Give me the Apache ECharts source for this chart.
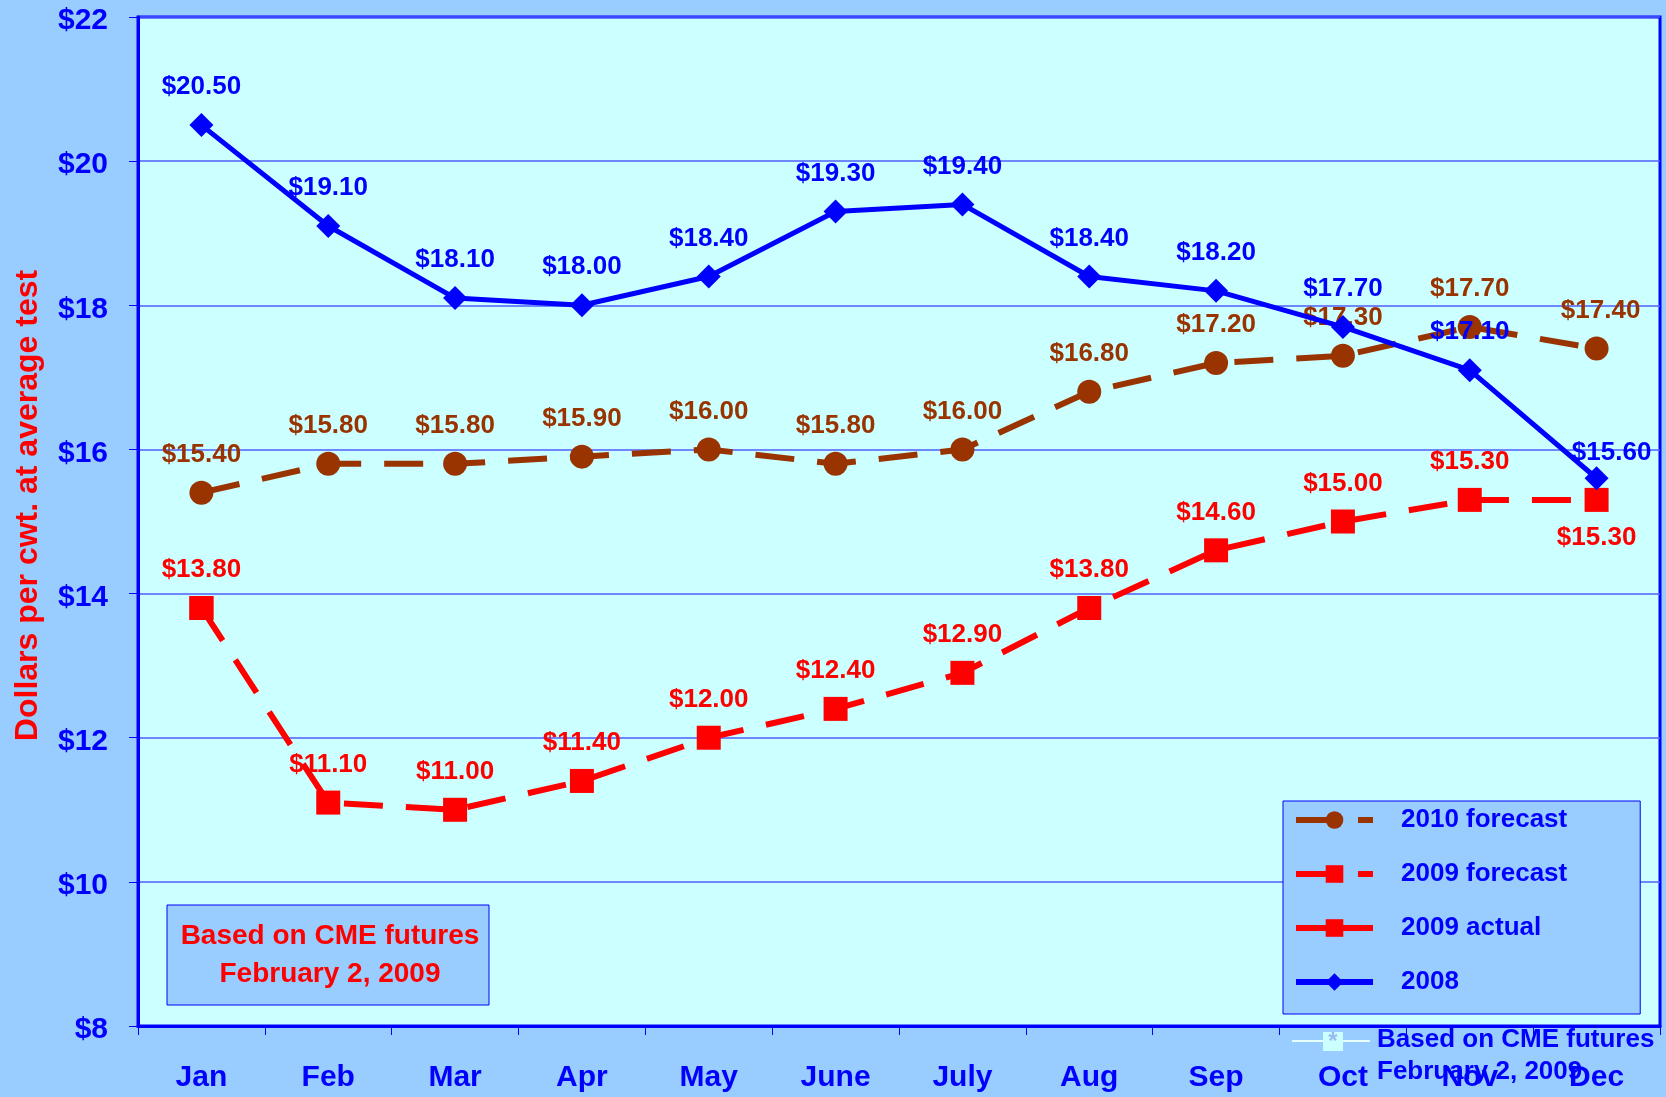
<!doctype html>
<html lang="en">
<head>
    <meta charset="UTF-8">
    <title>Class III milk price</title>
    <style>
        html, body { margin: 0; padding: 0; background: #99CCFF; }
        #chart { width: 1666px; height: 1097px; }
    </style>
</head>
<body>
    <div id="chart"></div>

    <script src="https://cdn.jsdelivr.net/npm/echarts@6/dist/echarts.min.js"></script>
    <script>
        var months = ['Jan', 'Feb', 'Mar', 'Apr', 'May', 'June', 'July', 'Aug', 'Sep', 'Oct', 'Nov', 'Dec'];
        var forecast2010 = [15.4, 15.8, 15.8, 15.9, 16.0, 15.8, 16.0, 16.8, 17.2, 17.3, 17.7, 17.4];
        var forecast2009 = [13.8, 11.1, 11.0, 11.4, 12.0, 12.4, 12.9, 13.8, 14.6, 15.0, 15.3, 15.3];
        var actual2009 = [13.8, '-', '-', '-', '-', '-', '-', '-', '-', '-', '-', '-'];
        var price2008 = [20.5, 19.1, 18.1, 18.0, 18.4, 19.3, 19.4, 18.4, 18.2, 17.7, 17.1, 15.6];

        var font = '"Liberation Sans", Arial, sans-serif';
        var chart = echarts.init(document.getElementById('chart'));

        function money(p) {
            return '$' + Number(p.value).toFixed(2);
        }
        function lbl(color, pos) {
            return {
                show: true,
                position: pos || 'top',
                distance: 13,
                color: color,
                fontFamily: font,
                fontWeight: 'bold',
                fontSize: 26,
                formatter: money
            };
        }

        // last red label sits below, last blue one is nudged right
        var red2009 = forecast2009.map(function (v, i) {
            if (i === 11) return { value: v, label: { position: 'bottom' } };
            return v;
        });
        var blue2008 = price2008.map(function (v, i) {
            if (i === 11) return { value: v, label: { offset: [15, 13] } };
            return v;
        });
        var brown2010 = forecast2010.map(function (v, i) {
            if (i === 11) return { value: v, label: { offset: [4, 0] } };
            return v;
        });

        var option = {
            backgroundColor: '#99CCFF',
            animation: false,
            textStyle: { fontFamily: font },
            grid: {
                left: 138, right: 6, top: 17, bottom: 71,
                show: true,
                backgroundColor: '#CCFFFF',
                borderColor: '#0000FF',
                borderWidth: 3
            },
            legend: {
                orient: 'vertical',
                left: 1283,
                top: 801,
                data: ['2010 forecast', '2009 forecast', '2009 actual', '2008'],
                backgroundColor: '#99CCFF',
                borderColor: '#0000FF',
                borderWidth: 1,
                borderRadius: 0,
                padding: [4, 73, 17, 10],
                itemGap: 24,
                itemWidth: 77,
                itemHeight: 22,
                selectedMode: false,
                lineStyle: { width: 6 },
                textStyle: {
                    color: '#0000FF',
                    fontFamily: font,
                    fontWeight: 'bold',
                    fontSize: 26,
                    lineHeight: 30,
                    padding: [0, 0, 0, 23]
                }
            },
            xAxis: {
                type: 'category',
                data: months,
                boundaryGap: true,
                axisLine: { lineStyle: { color: '#0000FF', width: 3 } },
                axisTick: { show: true, interval: 0, length: 9, lineStyle: { color: '#0000FF', width: 1 } },
                axisLabel: {
                    interval: 0,
                    margin: 37,
                    color: '#0000FF',
                    fontFamily: font,
                    fontWeight: 'bold',
                    fontSize: 30
                },
                splitLine: { show: false }
            },
            yAxis: {
                type: 'value',
                min: 8,
                max: 22,
                interval: 2,
                name: 'Dollars per cwt. at average test',
                nameLocation: 'middle',
                nameRotate: 90,
                nameGap: 94,
                nameTextStyle: {
                    color: '#FF0000',
                    fontFamily: font,
                    fontWeight: 'bold',
                    fontSize: 32,
                    padding: [0, 0, 0, 32]
                },
                axisLine: { show: true, lineStyle: { color: '#0000FF', width: 3 } },
                axisTick: { show: true, length: 9, lineStyle: { color: '#0000FF', width: 1 } },
                axisLabel: {
                    margin: 30,
                    color: '#0000FF',
                    fontFamily: font,
                    fontWeight: 'bold',
                    fontSize: 30,
                    formatter: function (v) { return '{v|$' + v + '}'; },
                    rich: {
                        v: {
                            color: '#0000FF',
                            fontFamily: font,
                            fontWeight: 'bold',
                            fontSize: 30,
                            padding: [8, 0, 0, 0]
                        }
                    }
                },
                splitLine: { show: true, lineStyle: { color: '#4F5FFF', width: 1.5 } }
            },
            series: [
                {
                    name: '2010 forecast',
                    type: 'line',
                    data: brown2010,
                    symbol: 'circle',
                    symbolSize: 24,
                    showAllSymbol: true,
                    itemStyle: { color: '#993300' },
                    lineStyle: { color: '#993300', width: 6, type: [39, 23] },
                    label: lbl('#993300'),
                    z: 2
                },
                {
                    name: '2009 forecast',
                    type: 'line',
                    data: red2009,
                    symbol: 'rect',
                    symbolSize: 24,
                    showAllSymbol: true,
                    itemStyle: { color: '#FF0000' },
                    lineStyle: { color: '#FF0000', width: 6, type: [39, 23] },
                    label: lbl('#FF0000'),
                    z: 3
                },
                {
                    name: '2009 actual',
                    type: 'line',
                    data: actual2009,
                    symbol: 'rect',
                    symbolSize: 24,
                    itemStyle: { color: '#FF0000' },
                    lineStyle: { color: '#FF0000', width: 6 },
                    z: 3
                },
                {
                    name: '2008',
                    type: 'line',
                    data: blue2008,
                    symbol: 'diamond',
                    symbolSize: 24,
                    showAllSymbol: true,
                    itemStyle: { color: '#0000FF' },
                    lineStyle: { color: '#0000FF', width: 5 },
                    label: lbl('#0000FF'),
                    z: 4
                }
            ],
            graphic: [
                // note box, lower left
                {
                    type: 'rect',
                    shape: { x: 167, y: 905, width: 322, height: 100 },
                    style: { fill: '#99CCFF', stroke: '#0000FF', lineWidth: 1 },
                    z: 10
                },
                {
                    type: 'text',
                    x: 330, y: 955,
                    style: {
                        text: 'Based on CME futures\nFebruary 2, 2009',
                        fill: '#FF0000',
                        font: 'bold 28px ' + font,
                        lineHeight: 38,
                        align: 'center',
                        verticalAlign: 'middle'
                    },
                    z: 11
                },
                // stray legend entry under the plot, lower right
                {
                    type: 'line',
                    shape: { x1: 1292, y1: 1041, x2: 1370, y2: 1041 },
                    style: { stroke: '#E6FFFF', lineWidth: 2 },
                    z: 10
                },
                {
                    type: 'rect',
                    shape: { x: 1323, y: 1032, width: 20, height: 19 },
                    style: { fill: '#CCFFFF', stroke: null },
                    z: 11
                },
                {
                    type: 'text',
                    x: 1333, y: 1042,
                    style: {
                        text: '*',
                        fill: '#99BBEE',
                        font: 'bold 24px ' + font,
                        align: 'center',
                        verticalAlign: 'middle'
                    },
                    z: 12
                },
                {
                    type: 'text',
                    x: 1377, y: 1056,
                    style: {
                        text: 'Based on CME futures\nFebruary 2, 2009',
                        fill: '#0000FF',
                        font: 'bold 26px ' + font,
                        lineHeight: 32,
                        align: 'left',
                        verticalAlign: 'middle'
                    },
                    z: 12
                }
            ]
        };

        chart.setOption(option);
    </script>
</body>
</html>
